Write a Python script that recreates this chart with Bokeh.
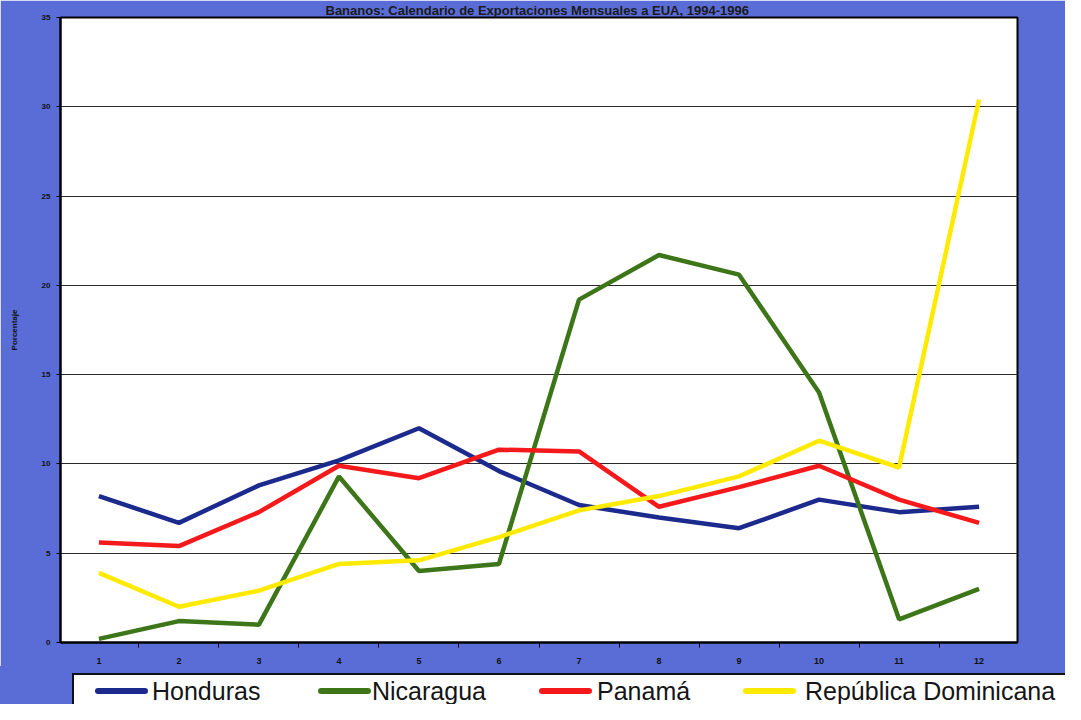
from bokeh.plotting import figure
from bokeh.models import Range1d, FixedTicker, Div
from bokeh.layouts import column
from bokeh.embed import file_html
from bokeh.resources import INLINE

# ---- data ----
months = list(range(1, 13))
month_labels = [str(m) for m in months]
honduras = [8.2, 6.7, 8.8, 10.2, 12.0, 9.6, 7.7, 7.0, 6.4, 8.0, 7.3, 7.6]
nicaragua = [0.2, 1.2, 1.0, 9.3, 4.0, 4.4, 19.2, 21.7, 20.6, 14.0, 1.3, 3.0]
panama = [5.6, 5.4, 7.3, 9.9, 9.2, 10.8, 10.7, 7.6, 8.7, 9.9, 8.0, 6.7]
rep_dom = [3.9, 2.0, 2.9, 4.4, 4.6, 5.9, 7.4, 8.2, 9.3, 11.3, 9.8, 30.4]
series_names = ["Honduras", "Nicaragua", "Panamá", "República Dominicana"]
y_ticks = [0, 5, 10, 15, 20, 25, 30, 35]

title_text = "Bananos:  Calendario de Exportaciones Mensuales a EUA, 1994-1996"

BG = "#5a6dd6"
colors = ["#1b2a8c", "#3d7619", "#f5191b", "#ffea00"]
FONT = "Liberation Sans"
W = 1065

p = figure(width=W, height=666, output_backend="svg", toolbar_location=None,
           x_range=Range1d(0.52, 12.48), y_range=Range1d(0, 35),
           min_border_left=60, min_border_right=48, min_border_top=0,
           min_border_bottom=22,
           background_fill_color="white", border_fill_color=BG,
           outline_line_color="black", outline_line_width=2,
           title=title_text)

p.title.text_font = FONT
p.title.text_font_size = "13px"
p.title.text_font_style = "bold"
p.title.text_color = "#1a1a1a"
p.title.align = "center"
p.title.standoff = 0

# y axis
p.yaxis.ticker = FixedTicker(ticks=y_ticks)
p.yaxis.axis_label = "Porcentaje"
p.yaxis.axis_label_text_font = FONT
p.yaxis.axis_label_text_font_size = "8px"
p.yaxis.axis_label_text_font_style = "bold"
p.yaxis.axis_label_text_color = "#111111"
p.yaxis.axis_label_standoff = 20
p.yaxis.major_label_text_font = FONT
p.yaxis.major_label_text_font_size = "8px"
p.yaxis.major_label_text_font_style = "bold"
p.yaxis.major_label_text_color = "#111111"
p.yaxis.major_label_standoff = 6
p.yaxis.major_tick_out = 4
p.yaxis.major_tick_in = 0
p.yaxis.major_tick_line_color = "black"
p.yaxis.minor_tick_line_color = None
p.yaxis.axis_line_color = "black"
p.yaxis.axis_line_width = 2

# x axis
p.xaxis.ticker = FixedTicker(ticks=months, minor_ticks=[m + 0.5 for m in months[:-1]])
p.xaxis.major_label_overrides = {m: l for m, l in zip(months, month_labels)}
p.xaxis.major_label_text_font = FONT
p.xaxis.major_label_text_font_size = "9px"
p.xaxis.major_label_text_font_style = "bold"
p.xaxis.major_label_text_color = "#111111"
p.xaxis.major_label_standoff = 10
p.xaxis.major_tick_out = 0
p.xaxis.major_tick_in = 0
p.xaxis.minor_tick_out = 5
p.xaxis.minor_tick_in = 0
p.xaxis.minor_tick_line_color = "black"
p.xaxis.axis_line_color = "black"
p.xaxis.axis_line_width = 2

# grid
p.ygrid.ticker = FixedTicker(ticks=y_ticks)
p.ygrid.grid_line_color = "#2a2a2a"
p.ygrid.grid_line_width = 1.2
p.xgrid.grid_line_color = None

for vals, c in zip([honduras, nicaragua, panama, rep_dom], colors):
    p.line(months, vals, line_color=c, line_width=4.5)

# ---- legend strip below the chart (HTML) ----
LH = 38
glyph_x0 = [95, 318, 539, 743]
glyph_len = 53
text_x = [152, 372, 597, 805]

parts = [
    f'<div style="position:relative;width:{W}px;height:{LH}px;background:{BG};overflow:hidden;'
    f'font-family:\'{FONT}\',Arial,sans-serif;">',
    f'<div style="position:absolute;left:72px;top:7px;width:1100px;height:60px;background:white;'
    f'border-top:2px solid #111;border-left:2px solid #111;"></div>',
]
for gx, tx, name, c in zip(glyph_x0, text_x, series_names, colors):
    parts.append(f'<div style="position:absolute;left:{gx}px;top:22px;width:{glyph_len}px;height:6px;'
                 f'border-radius:3px;background:{c};"></div>')
    parts.append(f'<span style="position:absolute;left:{tx}px;top:11px;font-size:25px;line-height:28px;'
                 f'color:#151515;white-space:nowrap;">{name}</span>')
parts.append('</div>')

legend_div = Div(text="".join(parts), width=W, height=LH, margin=0)

layout = column(p, legend_div, spacing=0)

open("out.html", "w").write(file_html(layout, INLINE))
